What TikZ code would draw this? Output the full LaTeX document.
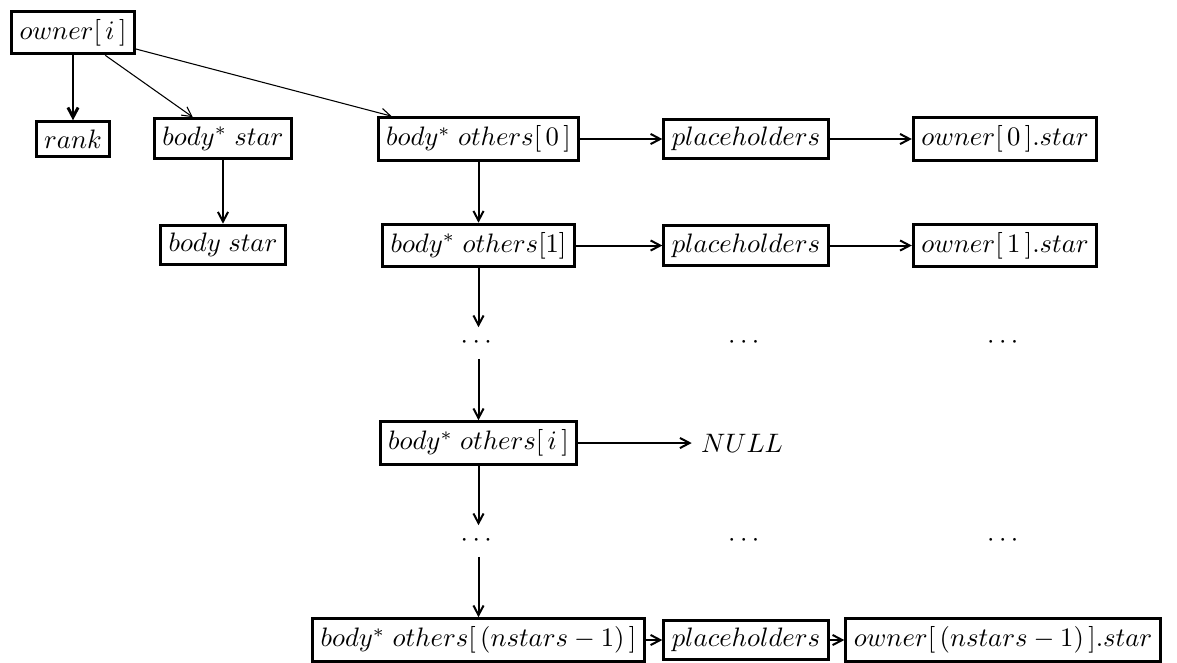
\documentclass[tikz,border=0pt]{standalone}
\usepackage{amsmath}
\usetikzlibrary{arrows.meta, positioning}

\begin{document}
\begin{tikzpicture}[x=0.1317cm, y=-0.1317cm,
			>={Straight Barb[length=3.6pt, width=3.8pt]},
			box/.style={draw, line width=1.1pt, inner sep=3pt},
			dotsnode/.style={inner sep=3.5pt},
			link/.style={->, line width=0.75pt},
			thin link/.style={->, line width=0.4pt}]
			\useasboundingbox (0,0) rectangle (117.7,66.2);
			
			% Prima riga
			\node[box] (owner) at (7.3,3.25) {$owner[\,i\,]$};
			\node[box] (rank) at (7.3,13.9) {$rank$};
			\node[box] (pstar) at (22.3,13.85) {$body^*\;star$};
			\node[box] (oth0) at (47.85,13.9) {$body^*\;others[\,0\,]$};
			\node[box] (ph0) at (74.6,13.9) {$placeholders$};
			\node[box] (os0) at (100.5,13.9) {$owner[\,0\,].star$};
			
			% Seconda riga
			\node[box] (star) at (22.3,24.5) {$body\;star$};
			\node[box] (oth1) at (47.85,24.55) {$body^*\;others[1]$};
			\node[box] (ph1) at (74.6,24.55) {$placeholders$};
			\node[box] (os1) at (100.5,24.55) {$owner[\,1\,].star$};
			
			% Puntini
			\node[dotsnode] (d1) at (47.85,34.3) {$\cdots$};
			\node[dotsnode] (d1b) at (74.6,34.3) {$\cdots$};
			\node[dotsnode] (d1c) at (100.5,34.3) {$\cdots$};
			
			\node[box] (othi) at (47.85,44.3) {$body^*\;others[\,i\,]$};
			\node (null) at (74.2,44.3) {$NULL$};
			
			\node[dotsnode] (d2) at (47.85,54.1) {$\cdots$};
			\node[dotsnode] (d2b) at (74.6,54.1) {$\cdots$};
			\node[dotsnode] (d2c) at (100.5,54.1) {$\cdots$};
			
			% Ultima riga
			\node[box] (othn) at (47.85,64.0) {$body^*\;others[\,(nstars-1)\,]$};
			\node[box] (phn) at (74.6,64.0) {$placeholders$};
			\node[box] (osn) at (100.3,64.0) {$owner[\,(nstars-1)\,].star$};
			
			% --- Frecce ---
			\draw[->, line width=1.1pt] (owner) -- (rank);
			\draw[thin link] (owner) -- (pstar);
			\draw[thin link] (owner) -- (oth0);
			\draw[link] (pstar) -- (star);
			
			\draw[link] (oth0) -- (ph0);
			\draw[link] (ph0) -- (os0);
			\draw[link] (oth1) -- (ph1);
			\draw[link] (ph1) -- (os1);
			\draw[link] (othi) -- (null);
			\draw[link] (othn) -- (phn);
			\draw[link] (phn) -- (osn);
			
			\draw[link] (oth0) -- (oth1);
			\draw[link] (oth1) -- (d1);
			\draw[link] (d1) -- (othi);
			\draw[link] (othi) -- (d2);
			\draw[link] (d2) -- (othn);
		\end{tikzpicture}
\end{document}
